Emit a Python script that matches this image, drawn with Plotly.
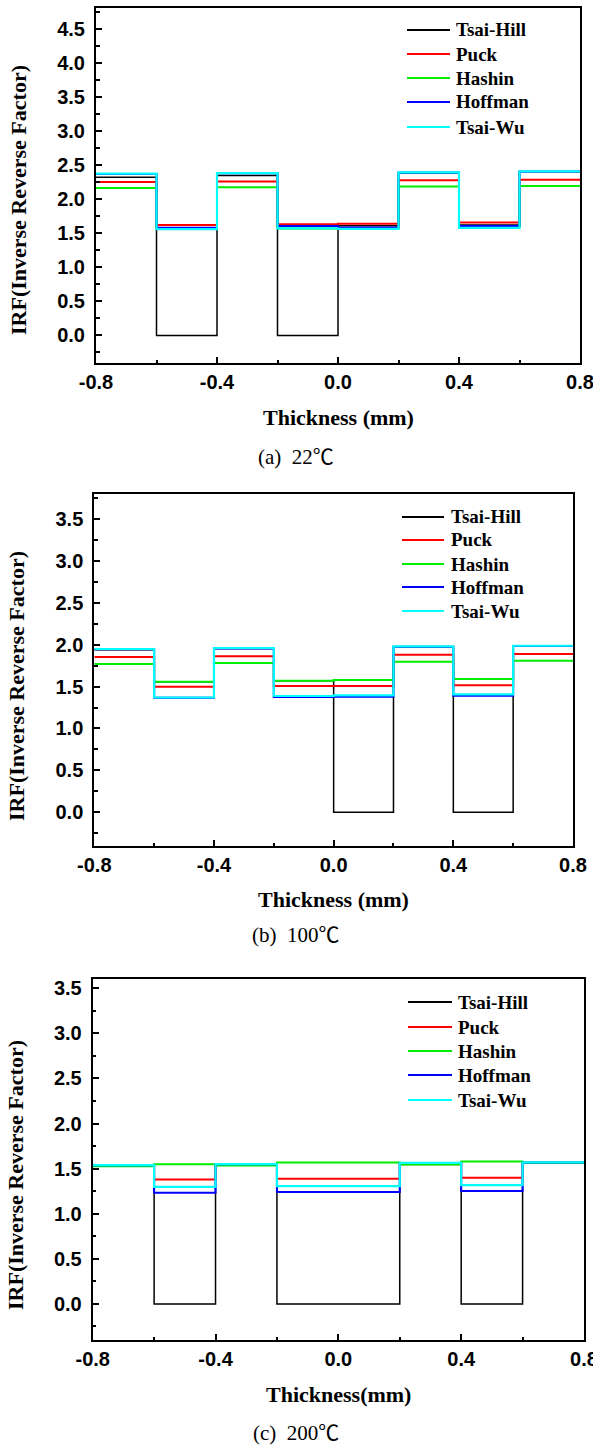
import plotly.graph_objects as go

# ---------------- data ----------------
layer_edges = [-0.8, -0.6, -0.4, -0.2, 0.0, 0.2, 0.4, 0.6, 0.8]
criteria = ["Tsai-Hill", "Puck", "Hashin", "Hoffman", "Tsai-Wu"]

# (a) 22 C  -- IRF per layer (8 plies)
a_tsai_hill = [2.32, 0.00, 2.345, 0.00, 1.61, 2.385, 1.62, 2.40]
a_puck      = [2.25, 1.62, 2.26, 1.633, 1.637, 2.276, 1.658, 2.286]
a_hashin    = [2.164, 1.56, 2.174, 1.57, 1.565, 2.184, 1.58, 2.193]
a_hoffman   = [2.37, 1.579, 2.38, 1.604, 1.585, 2.39, 1.604, 2.405]
a_tsai_wu   = [2.374, 1.56, 2.383, 1.57, 1.565, 2.393, 1.579, 2.408]

# (b) 100 C
b_tsai_hill = [1.94, 1.559, 1.955, 1.571, 0.00, 1.975, 0.00, 1.983]
b_puck      = [1.853, 1.499, 1.861, 1.507, 1.507, 1.881, 1.515, 1.889]
b_hashin    = [1.770, 1.559, 1.782, 1.571, 1.579, 1.797, 1.591, 1.809]
b_hoffman   = [1.945, 1.366, 1.956, 1.376, 1.380, 1.976, 1.392, 1.984]
b_tsai_wu   = [1.949, 1.370, 1.961, 1.388, 1.396, 1.981, 1.408, 1.988]

# (c) 200 C
c_tsai_hill = [1.530, 0.00, 1.540, 0.00, 0.00, 1.549, 0.00, 1.565]
c_puck      = [1.530, 1.381, 1.540, 1.388, 1.388, 1.548, 1.399, 1.565]
c_hashin    = [1.528, 1.550, 1.536, 1.569, 1.569, 1.547, 1.580, 1.567]
c_hoffman   = [1.538, 1.233, 1.549, 1.240, 1.240, 1.564, 1.251, 1.568]
c_tsai_wu   = [1.539, 1.299, 1.550, 1.307, 1.307, 1.565, 1.318, 1.569]

x_tick_vals = [-0.8, -0.4, 0.0, 0.4, 0.8]
x_tick_text = ["-0.8", "-0.4", "0.0", "0.4", "0.8"]
x_titles = ["Thickness (mm)", "Thickness (mm)", "Thickness(mm)"]
y_title = "IRF(Inverse Reverse Factor)"
caption_labels = ["(a)", "(b)", "(c)"]
caption_temps = ["22", "100", "200"]

panels_data = [
    [a_tsai_hill, a_puck, a_hashin, a_hoffman, a_tsai_wu],
    [b_tsai_hill, b_puck, b_hashin, b_hoffman, b_tsai_wu],
    [c_tsai_hill, c_puck, c_hashin, c_hoffman, c_tsai_wu],
]

# ---------------- styling / layout ----------------
W, H = 593, 1445
colors = ["#000000", "#ff0000", "#00ee00", "#0000ff", "#00ffff"]
widths = [1.5, 2, 2, 2, 2.2]

geo = [
    dict(l=96, r=580, t=8.3, b=362.7, yr=[-0.4, 4.8], ytx=18, yty=200, xty=417, cy=455,
         leg_x0=407, leg_x1=450, leg_tx=454, leg_y=[30, 54, 78, 102, 127]),
    dict(l=94.3, r=573, t=494, b=845.7, yr=[-0.4, 3.8], ytx=17, yty=686, xty=899, cy=933,
         leg_x0=402, leg_x1=444, leg_tx=449, leg_y=[517, 540, 564, 587, 611]),
    dict(l=92.7, r=584, t=979.3, b=1340, yr=[-0.4, 3.6], ytx=15, yty=1175, xty=1394, cy=1431,
         leg_x0=408, leg_x1=452, leg_tx=456, leg_y=[1002, 1027, 1051, 1075, 1100]),
]

def px(xp):
    return xp / W

def py(yp):
    return 1 - yp / H

fig = go.Figure()
tick_font = dict(family="Arial, Liberation Sans, sans-serif", size=20, color="black", weight="bold")
serif_bold = dict(family="Times New Roman, Liberation Serif, serif", size=22, color="black", weight="bold")

annotations = []
shapes = []
for i, (series_list, g) in enumerate(zip(panels_data, geo)):
    n = "" if i == 0 else str(i + 1)
    xa, ya = "x" + n, "y" + n
    for name, vals, col, w in zip(criteria, series_list, colors, widths):
        fig.add_trace(go.Scatter(
            x=layer_edges, y=list(vals) + [vals[-1]], mode="lines",
            line=dict(color=col, width=w, shape="hv"),
            name=name, showlegend=False, xaxis=xa, yaxis=ya, cliponaxis=True,
        ))
    axis_common = dict(showline=True, linecolor="black", linewidth=2, mirror=True,
                       ticks="inside", tickcolor="black", tickwidth=1.5, ticklen=6,
                       showgrid=False, zeroline=False, tickfont=tick_font, automargin=False,
                       ticklabeloverflow="allow")
    fig.layout["xaxis" + n] = dict(
        axis_common, domain=[px(g["l"]), px(g["r"])], range=[-0.8, 0.8],
        anchor=ya, tickmode="array", tickvals=x_tick_vals, ticktext=x_tick_text,
        minor=dict(ticks="inside", ticklen=3, tickwidth=1.5, tickcolor="black",
                   tickmode="array", tickvals=[-0.6, -0.2, 0.2, 0.6]),
    )
    fig.layout["yaxis" + n] = dict(
        axis_common, domain=[py(g["b"]), py(g["t"])], range=g["yr"],
        anchor=xa, dtick=0.5, tick0=0, tickformat=".1f", ticklabelstandoff=5,
        minor=dict(ticks="inside", ticklen=3.5, tickwidth=1.5, tickcolor="black", dtick=0.25, tick0=0),
    )
    annotations.append(dict(text=y_title, xref="paper", yref="paper", x=px(g["ytx"]), y=py(g["yty"]),
                            xanchor="center", yanchor="middle", textangle=-90, showarrow=False,
                            font=serif_bold))
    annotations.append(dict(text=x_titles[i], xref="paper", yref="paper", x=px((g["l"] + g["r"]) / 2),
                            y=py(g["xty"]), xanchor="center", yanchor="middle", showarrow=False,
                            font=serif_bold))
    caption = (caption_labels[i] + "\u00a0 " + caption_temps[i]
               + "<span style='font-family:Noto Sans CJK SC'>\u2103</span>")
    annotations.append(dict(text=caption, xref="paper", yref="paper", x=px(296), y=py(g["cy"]),
                            xanchor="center", yanchor="middle", showarrow=False,
                            font=dict(family="Times New Roman, Liberation Serif, serif",
                                      size=21, color="black")))
    for name, col, ly in zip(criteria, colors, g["leg_y"]):
        shapes.append(dict(type="line", xref="paper", yref="paper",
                           x0=px(g["leg_x0"]), x1=px(g["leg_x1"]), y0=py(ly), y1=py(ly),
                           line=dict(color=col, width=2)))
        annotations.append(dict(text=name, xref="paper", yref="paper", x=px(g["leg_tx"]), y=py(ly),
                                xanchor="left", yanchor="middle", showarrow=False,
                                font=dict(family="Times New Roman, Liberation Serif, serif", size=19,
                                          color="black", weight="bold")))

fig.update_layout(
    width=W, height=H, margin=dict(l=0, r=0, t=0, b=0, pad=0), autosize=False,
    paper_bgcolor="white", plot_bgcolor="white", showlegend=False,
    annotations=annotations, shapes=shapes,
)

fig.write_html("out.html")
